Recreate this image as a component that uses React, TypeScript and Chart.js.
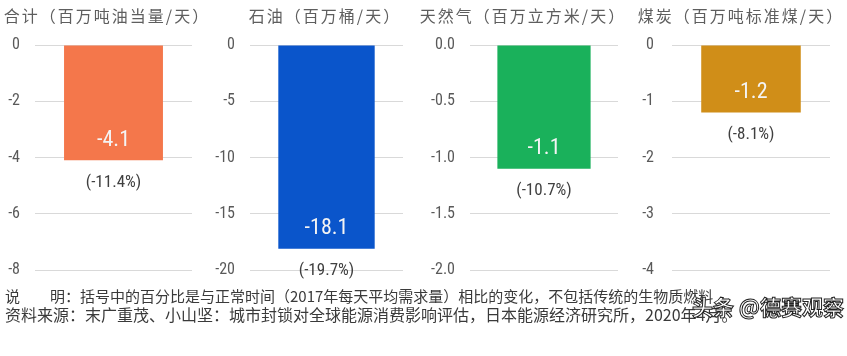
import React, { useEffect, useRef } from "react";
import { Chart, registerables } from "chart.js";

Chart.register(...registerables);

// ---- data ----
const panelTitles = [
  "合计（百万吨油当量/天）",
  "石油（百万桶/天）",
  "天然气（百万立方米/天）",
  "煤炭（百万吨标准煤/天）",
];
const categories = ["合计", "石油", "天然气", "煤炭"];
const values = [-4.1, -18.1, -1.1, -1.2];
const pctLabels = ["(-11.4%)", "(-19.7%)", "(-10.7%)", "(-8.1%)"];
const axisMin = [-8, -20, -2, -4];
const axisStep = [2, 5, 0.5, 1];
const tickDecimals = [0, 0, 1, 0];
const barColors = ["#F4774B", "#0A55CB", "#1AB15B", "#D08E18"];
const noteLine1 = "说　　明：括号中的百分比是与正常时间（2017年每天平均需求量）相比的变化，不包括传统的生物质燃料";
const noteLine2 = "资料来源：末广重茂、小山坚：城市封锁对全球能源消费影响评估，日本能源经济研究所，2020年4月。";
const watermark = "头条 @德赛观察";

// ---- layout ----
const AREA_TOP = 45;
const AREA_H = 225;
const HALF_LABEL = 10; // 16px font * 1.25 line height / 2
const panels = [
  { left: 0, width: 200, axisW: 35, padR: 8, tickPad: 15, titleCx: 107 },
  { left: 205, width: 205, axisW: 45, padR: 7, tickPad: 15, titleCx: 325 },
  { left: 410, width: 215, axisW: 60, padR: 7, tickPad: 15, titleCx: 523 },
  { left: 625, width: 215, axisW: 47, padR: 10, tickPad: 18, titleCx: 741 },
];
const NUM_FONT = "'Liberation Sans Narrow', 'Arial Narrow', 'Roboto Condensed', 'Liberation Sans', sans-serif";
const CJK_FONT = "'Noto Sans CJK SC', 'Noto Sans', sans-serif";

const labelPlugin = {
  id: "barLabels",
  afterDatasetsDraw(chart: any) {
    const idx = chart.options.plugins.barLabels.idx;
    const meta = chart.getDatasetMeta(0);
    const ctx = chart.ctx;
    meta.data.forEach((bar: any) => {
      const { x, y } = bar.getProps(["x", "y"], true);
      ctx.save();
      ctx.textAlign = "center";
      ctx.textBaseline = "middle";
      ctx.fillStyle = "#F4F4F4";
      ctx.font = "22px " + NUM_FONT;
      ctx.fillText(values[idx].toFixed(1), x, y - 20);
      ctx.fillStyle = "#404040";
      ctx.font = "17px " + NUM_FONT;
      ctx.fillText(pctLabels[idx], x, y + 22);
      ctx.restore();
    });
  },
};

function Panel({ idx }: { idx: number }) {
  const ref = useRef<HTMLCanvasElement>(null);
  const p = panels[idx];
  const off = p.tickPad + HALF_LABEL;
  const top = AREA_TOP - off;
  const height = AREA_H + 2 * off;
  useEffect(() => {
    const chart = new Chart(ref.current!, {
      type: "bar",
      data: {
        labels: [categories[idx]],
        datasets: [
          {
            data: [values[idx]],
            backgroundColor: barColors[idx],
            barPercentage: 0.63,
            categoryPercentage: 1,
          },
        ],
      },
      options: {
        animation: false,
        responsive: false,
        maintainAspectRatio: false,
        layout: { padding: { top: 0, bottom: 0, right: p.padR, left: 0 } },
        plugins: {
          legend: { display: false },
          tooltip: { enabled: false },
          barLabels: { idx },
        } as any,
        scales: {
          x: { display: false },
          y: {
            min: axisMin[idx],
            max: 0,
            afterFit: (s: any) => {
              s.width = p.axisW;
            },
            ticks: {
              stepSize: axisStep[idx],
              padding: p.tickPad,
              color: "#595959",
              font: { family: NUM_FONT, size: 16, lineHeight: 1.25 },
              callback: (v: any) => Number(v).toFixed(tickDecimals[idx]),
            },
            grid: { color: "#D9D9D9", lineWidth: 1, drawTicks: false },
            border: { display: false },
          },
        },
      },
      plugins: [labelPlugin],
    });
    return () => chart.destroy();
  }, []);
  return (
    <canvas
      ref={ref}
      width={p.width}
      height={height}
      style={{ position: "absolute", left: p.left, top, width: p.width, height }}
    />
  );
}

export default function App() {
  return (
    <div style={{ position: "absolute", left: 0, top: 0, width: 847, height: 356, background: "#fff", overflow: "hidden" }}>
      {panels.map((_, i) => (
        <Panel key={i} idx={i} />
      ))}
      {panelTitles.map((t, i) => (
        <div
          key={t}
          style={{
            position: "absolute",
            left: panels[i].titleCx - 110,
            width: 220,
            top: 4,
            textAlign: "center",
            fontFamily: CJK_FONT,
            fontSize: 16,
            letterSpacing: 2,
            color: "#5E5E5E",
            lineHeight: "22px",
            whiteSpace: "nowrap",
          }}
        >
          {t}
        </div>
      ))}
      <div
        style={{
          position: "absolute",
          left: 5,
          top: 287,
          fontFamily: CJK_FONT,
          fontSize: 15,
          color: "#3A3A3A",
          lineHeight: "18px",
          whiteSpace: "nowrap",
        }}
      >
        {noteLine1}
      </div>
      <div
        style={{
          position: "absolute",
          left: 5,
          top: 305,
          fontFamily: CJK_FONT,
          fontSize: 16,
          color: "#3A3A3A",
          lineHeight: "18px",
          whiteSpace: "nowrap",
        }}
      >
        {noteLine2}
      </div>
      <div
        style={{
          position: "absolute",
          left: 692,
          top: 292,
          fontFamily: CJK_FONT,
          fontSize: 21,
          color: "#FFFFFF",
          lineHeight: "28px",
          whiteSpace: "nowrap",
          WebkitTextStroke: "1px #222",
          fontWeight: 700,
        }}
      >
        {watermark}
      </div>
    </div>
  );
}
